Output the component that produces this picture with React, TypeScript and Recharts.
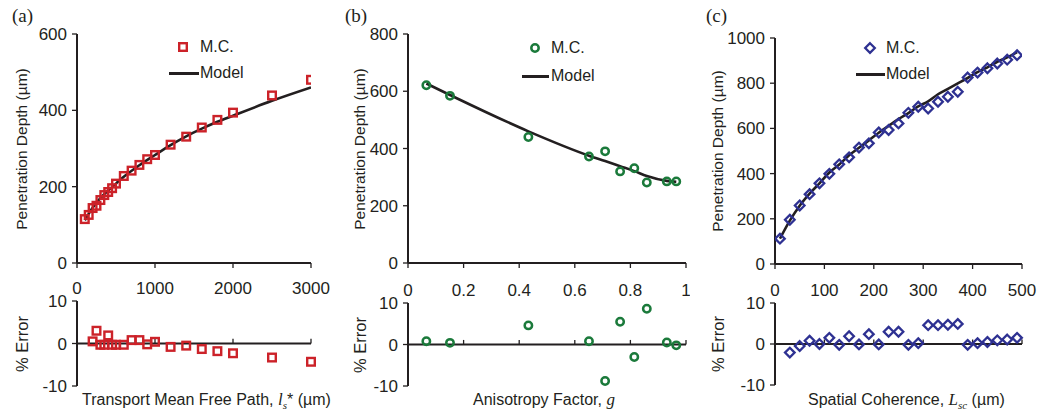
import React from "react";
import {
  ComposedChart,
  Line,
  Scatter,
  XAxis,
  YAxis,
  ReferenceLine,
} from "recharts";

// ---------- Data ----------
// Panel (a): transport mean free path
const aMcX = [100, 150, 200, 250, 300, 350, 400, 450, 500, 600, 700, 800, 900, 1000, 1200, 1400, 1600, 1800, 2000, 2500, 3000];
const aMcY = [115, 126, 144, 150, 165, 178, 186, 196, 208, 228, 242, 257, 272, 283, 310, 331, 355, 375, 394, 439, 480];
const aModelX = [100, 200, 300, 400, 500, 600, 800, 1000, 1200, 1400, 1600, 1800, 2000, 2500, 3000];
const aModelY = [112, 145, 170, 190, 208, 226, 256, 283, 309, 332, 352, 370, 386, 425, 460];
const aErrX = [200, 250, 300, 350, 400, 450, 500, 600, 700, 800, 900, 1000, 1200, 1400, 1600, 1800, 2000, 2500, 3000];
const aErrY = [0.5, 3.0, -0.3, -0.3, 1.9, -0.3, -0.3, -0.3, 0.8, 0.8, -0.2, 0.4, -0.8, -0.5, -1.3, -1.8, -2.3, -3.3, -4.3];

// Panel (b): anisotropy factor
const bMcX = [0.066, 0.151, 0.433, 0.651, 0.709, 0.763, 0.814, 0.859, 0.931, 0.965];
const bMcY = [621, 584, 440, 372, 390, 320, 331, 281, 285, 285];
const bModelY = [627, 587, 460, 375, 356, 338, 321, 304, 287, 284];
const bErrY = [0.8, 0.4, 4.6, 0.8, -8.8, 5.5, -3.0, 8.6, 0.5, -0.2];

// Panel (c): spatial coherence
const cMcX = [10, 30, 50, 70, 90, 110, 130, 150, 170, 190, 210, 230, 250, 270, 290, 310, 330, 350, 370, 390, 410, 430, 450, 470, 490];
const cMcY = [112, 196, 259, 309, 357, 399, 441, 472, 515, 534, 582, 593, 622, 669, 696, 688, 718, 740, 762, 825, 847, 866, 887, 904, 924];
const cModelY = [112, 192, 258, 311, 357, 405, 440, 481, 514, 547, 581, 611, 641, 668, 697, 720, 751, 775, 799, 823, 849, 870, 895, 914, 938];
const cErrX = [30, 50, 70, 90, 110, 130, 150, 170, 190, 210, 230, 250, 270, 290, 310, 330, 350, 370, 390, 410, 430, 450, 470, 490];
const cErrY = [-2.1, -0.5, 0.8, 0.0, 1.5, -0.2, 1.9, -0.1, 2.4, -0.1, 3.0, 3.0, -0.2, 0.2, 4.6, 4.6, 4.7, 4.9, -0.2, 0.2, 0.5, 0.9, 1.1, 1.5];

const aXTicks = [0, 1000, 2000, 3000];
const bXTicks = [0, 0.2, 0.4, 0.6, 0.8, 1];
const cXTicks = [0, 100, 200, 300, 400, 500];
const aYTicks = [0, 200, 400, 600];
const bYTicks = [0, 200, 400, 600, 800];
const cYTicks = [0, 200, 400, 600, 800, 1000];
const errTicks = [-10, 0, 10];

const zip = (xs: number[], ys: number[]) => xs.map((x, i) => ({ x, y: ys[i] }));

// ---------- Styles ----------
const FONT = "'Liberation Sans', Arial, Helvetica, sans-serif";
const SERIF = "'Liberation Serif', 'Times New Roman', serif";
const INK = "#231f20";
const RED = "#cc2229";
const GREEN = "#1b7a3b";
const BLUE = "#2e3192";

type ShapeKind = "square" | "circle" | "diamond";

const makeShape = (kind: ShapeKind, color: string) => (props: any) => {
  const { cx, cy } = props;
  if (cx == null || cy == null) return <g />;
  if (kind === "square")
    return <rect x={cx - 3.8} y={cy - 3.8} width={7.6} height={7.6} fill="none" stroke={color} strokeWidth={2.4} />;
  if (kind === "circle")
    return <circle cx={cx} cy={cy} r={3.7} fill="none" stroke={color} strokeWidth={2.5} />;
  return (
    <polygon
      points={`${cx},${cy - 4.8} ${cx + 4.8},${cy} ${cx},${cy + 4.8} ${cx - 4.8},${cy}`}
      fill="none"
      stroke={color}
      strokeWidth={2.3}
    />
  );
};

interface PanelCfg {
  left: number;
  width: number;
  axisX: number;
  endX: number;
  topY0: number;
  topY1: number;
  botY0: number;
  botY1: number;
  xDomain: [number, number];
  xTicks: number[];
  yDomain: [number, number];
  yTicks: number[];
  mc: { x: number; y: number }[];
  model: { x: number; y: number }[];
  err: { x: number; y: number }[];
  kind: ShapeKind;
  color: string;
  legMarkerX: number;
  legLineX0: number;
  legLineX1: number;
  legTextX: number;
  legY1: number;
  legY2: number;
  panelLabel: string;
  panelLabelX: number;
  yTitleX: number;
  xTitle: React.ReactNode;
  xTitleLeft: number;
  tickFmt?: (v: number) => string;
}

const axisTick = { fontSize: 17, fill: INK, fontFamily: FONT };

const LegendBlock = ({ p }: { p: PanelCfg }) => {
  const Shape = makeShape(p.kind, p.color);
  const txt: React.CSSProperties = {
    position: "absolute",
    fontFamily: FONT,
    fontSize: 16,
    color: INK,
    lineHeight: "18px",
    whiteSpace: "nowrap",
  };
  return (
    <>
      <svg
        width={14}
        height={14}
        style={{ position: "absolute", left: p.legMarkerX - 7, top: p.legY1 - 7, overflow: "visible" }}
      >
        <Shape cx={7} cy={7} />
      </svg>
      <div style={{ ...txt, left: p.legTextX, top: p.legY1 - 9 }}>M.C.</div>
      <div
        style={{
          position: "absolute",
          left: p.legLineX0,
          top: p.legY2 - 1.5,
          width: p.legLineX1 - p.legLineX0,
          height: 3,
          background: INK,
        }}
      />
      <div style={{ ...txt, left: p.legTextX, top: p.legY2 - 9 }}>Model</div>
    </>
  );
};

const Panel = ({ p }: { p: PanelCfg }) => {
  const yAxisW = p.axisX - p.left;
  const rightM = p.left + p.width - p.endX;
  const topH = 280;
  const botH = 131;
  const mcShape = makeShape(p.kind, p.color);
  const zeroTicks = p.xTicks.filter((t) => t !== p.xDomain[0]);
  const rot: React.CSSProperties = {
    position: "absolute",
    width: 200,
    textAlign: "center",
    transform: "rotate(-90deg)",
    fontFamily: FONT,
    color: INK,
    lineHeight: "18px",
    whiteSpace: "nowrap",
  };
  return (
    <>
      <div style={{ position: "absolute", left: p.left, top: 0, width: p.width, height: topH }}>
        <ComposedChart
          width={p.width}
          height={topH}
          margin={{ top: p.topY0, right: rightM, bottom: 0, left: 0 }}
        >
          <XAxis
            type="number"
            dataKey="x"
            domain={p.xDomain}
            ticks={p.xTicks}
            height={topH - p.topY1}
            tickFormatter={() => ""}
            axisLine={{ stroke: INK, strokeWidth: 2 }}
            tickLine={{ stroke: INK, strokeWidth: 1.3 }}
            tickSize={5}
            allowDataOverflow
          />
          <YAxis
            type="number"
            domain={p.yDomain}
            ticks={p.yTicks}
            width={yAxisW}
            tick={axisTick}
            axisLine={{ stroke: INK, strokeWidth: 2 }}
            tickLine={{ stroke: INK, strokeWidth: 1.3 }}
            tickSize={5}
            tickMargin={5}
            interval={0}
          />
          <Line
            data={p.model}
            dataKey="y"
            type="monotone"
            stroke={INK}
            strokeWidth={2.6}
            dot={false}
            activeDot={false}
            isAnimationActive={false}
            legendType="none"
          />
          <Scatter data={p.mc} dataKey="y" shape={mcShape} isAnimationActive={false} />
        </ComposedChart>
      </div>
      <div style={{ position: "absolute", left: p.left, top: topH, width: p.width, height: botH }}>
        <ComposedChart
          width={p.width}
          height={botH}
          margin={{ top: 0, right: rightM, bottom: 411 - p.botY1, left: 0 }}
        >
          <XAxis
            type="number"
            dataKey="x"
            orientation="top"
            domain={p.xDomain}
            ticks={p.xTicks}
            height={p.botY0 - topH}
            axisLine={false}
            tickLine={false}
            tickSize={0}
            tickMargin={7}
            tick={axisTick}
            tickFormatter={p.tickFmt}
            interval={0}
          />
          <YAxis
            type="number"
            domain={[-10, 10]}
            ticks={errTicks}
            width={yAxisW}
            tick={axisTick}
            axisLine={{ stroke: INK, strokeWidth: 2 }}
            tickLine={{ stroke: INK, strokeWidth: 1.3 }}
            tickSize={5}
            tickMargin={5}
            interval={0}
          />
          <ReferenceLine y={0} stroke={INK} strokeWidth={2} />
          {zeroTicks.map((t) => (
            <ReferenceLine
              key={t}
              segment={[
                { x: t, y: 0 },
                { x: t, y: 1.1 },
              ]}
              stroke={INK}
              strokeWidth={1.3}
            />
          ))}
          <Scatter data={p.err} dataKey="y" shape={mcShape} isAnimationActive={false} />
        </ComposedChart>
      </div>
      <LegendBlock p={p} />
      <div
        style={{
          position: "absolute",
          left: p.panelLabelX,
          top: 5,
          fontFamily: SERIF,
          fontSize: 19,
          color: INK,
        }}
      >
        {p.panelLabel}
      </div>
      <div style={{ ...rot, fontSize: 15.5, left: p.yTitleX - 100, top: (p.topY0 + p.topY1) / 2 - 9 }}>
        Penetration Depth (µm)
      </div>
      <div style={{ ...rot, fontSize: 16.5, left: p.yTitleX - 100, top: (p.botY0 + p.botY1) / 2 - 9 }}>% Error</div>
      <div
        style={{
          position: "absolute",
          left: p.xTitleLeft,
          top: 391,
          fontFamily: FONT,
          fontSize: 16,
          color: INK,
          lineHeight: "18px",
          whiteSpace: "nowrap",
        }}
      >
        {p.xTitle}
      </div>
    </>
  );
};

const italic = { fontFamily: SERIF, fontStyle: "italic" as const };

const panels: PanelCfg[] = [
  {
    left: 0,
    width: 345,
    axisX: 77,
    endX: 311,
    topY0: 34,
    topY1: 263,
    botY0: 301,
    botY1: 386,
    xDomain: [0, 3000],
    xTicks: aXTicks,
    yDomain: [0, 600],
    yTicks: aYTicks,
    mc: zip(aMcX, aMcY),
    model: zip(aModelX, aModelY),
    err: zip(aErrX, aErrY),
    kind: "square",
    color: RED,
    legMarkerX: 183,
    legLineX0: 169,
    legLineX1: 199,
    legTextX: 200,
    legY1: 47,
    legY2: 73,
    panelLabel: "(a)",
    panelLabelX: 12,
    yTitleX: 22,
    xTitle: (
      <span>
        Transport Mean Free Path, <span style={{ ...italic, fontSize: 17 }}>l</span>
        <sub style={{ ...italic, fontSize: 11 }}>s</sub>* (µm)
      </span>
    ),
    xTitleLeft: 82,
  },
  {
    left: 345,
    width: 345,
    axisX: 408,
    endX: 686,
    topY0: 34,
    topY1: 263,
    botY0: 303,
    botY1: 386,
    xDomain: [0, 1],
    xTicks: bXTicks,
    yDomain: [0, 800],
    yTicks: bYTicks,
    mc: zip(bMcX, bMcY),
    model: zip(bMcX, bModelY),
    err: zip(bMcX, bErrY),
    kind: "circle",
    color: GREEN,
    legMarkerX: 535,
    legLineX0: 522,
    legLineX1: 549,
    legTextX: 551,
    legY1: 48,
    legY2: 76,
    panelLabel: "(b)",
    panelLabelX: 345,
    yTitleX: 360,
    xTitle: (
      <span>
        Anisotropy Factor, <span style={{ ...italic, fontSize: 17 }}>g</span>
      </span>
    ),
    xTitleLeft: 473,
    tickFmt: (v: number) => String(v),
  },
  {
    left: 690,
    width: 348,
    axisX: 775,
    endX: 1022,
    topY0: 38,
    topY1: 264,
    botY0: 303,
    botY1: 385,
    xDomain: [0, 500],
    xTicks: cXTicks,
    yDomain: [0, 1000],
    yTicks: cYTicks,
    mc: zip(cMcX, cMcY),
    model: zip(cMcX, cModelY),
    err: zip(cErrX, cErrY),
    kind: "diamond",
    color: BLUE,
    legMarkerX: 870,
    legLineX0: 856,
    legLineX1: 885,
    legTextX: 886,
    legY1: 48,
    legY2: 74,
    panelLabel: "(c)",
    panelLabelX: 706,
    yTitleX: 718,
    xTitle: (
      <span>
        Spatial Coherence, <span style={{ ...italic, fontSize: 17 }}>L</span>
        <sub style={{ ...italic, fontSize: 11 }}>sc</sub> (µm)
      </span>
    ),
    xTitleLeft: 808,
  },
];

export default function App() {
  return (
    <div
      style={{
        position: "absolute",
        left: 0,
        top: 0,
        width: 1038,
        height: 411,
        background: "#fff",
        overflow: "hidden",
        fontFamily: FONT,
      }}
    >
      {panels.map((p) => (
        <Panel key={p.panelLabel} p={p} />
      ))}
    </div>
  );
}
